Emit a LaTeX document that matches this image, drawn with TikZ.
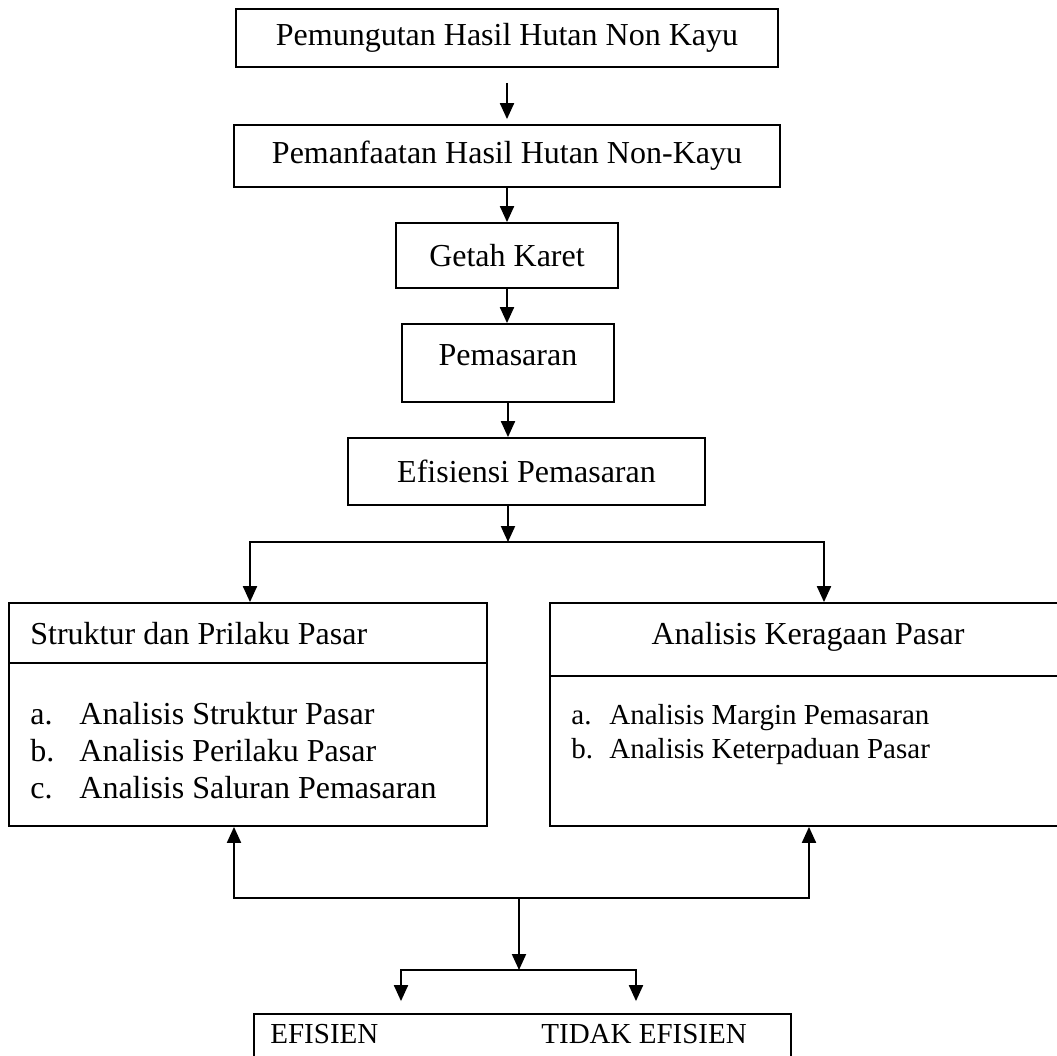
\documentclass[tikz,border=0pt]{standalone}
\usepackage{fontspec}
\setmainfont{Liberation Serif}
\usetikzlibrary{arrows.meta,positioning}

\begin{document}
\begin{tikzpicture}[x=0.5pt,y=-0.5pt,
	box/.style={draw,line width=0.9pt,inner sep=0pt,font=\fontsize{16}{19}\selectfont},
	arr/.style={line width=1pt,-{Triangle[width=7pt,length=8pt]}},
	txt/.style={inner sep=0pt,anchor=base west,font=\fontsize{16}{19}\selectfont},
	txtkecil/.style={inner sep=0pt,anchor=base west,font=\fontsize{14.5}{17}\selectfont}]
	\clip (0,0) rectangle (1057,1056);
	% alur atas
	\node[box,minimum width=271pt,minimum height=29pt] (pungut) at (507,38) {Pemungutan Hasil Hutan Non Kayu};
	\node[box,minimum width=273pt,minimum height=31pt] (manfaat) at (507,156) {Pemanfaatan Hasil Hutan Non-Kayu};
	\node[box,minimum width=111pt,minimum height=32.5pt] (getah) at (507,255.5) {Getah Karet};
	\node[box,minimum width=106pt,minimum height=39pt,text depth=8pt] (pasar) at (508,363) {Pemasaran};
	\node[box,minimum width=178.5pt,minimum height=33.5pt] (efisiensi) at (526.5,471.5) {Efisiensi Pemasaran};
	\draw[arr,shorten <=7.5pt,shorten >=2.5pt] (pungut.south) -- (manfaat.north);
	\draw[arr] (manfaat.south) -- (getah.north);
	\draw[arr] (getah.south) -- (getah.south |- pasar.north);
	\draw[arr] (pasar.south) -- (pasar.south |- efisiensi.north);
	% dua analisis
	\node[box,minimum width=239pt,minimum height=111.5pt] (struktur) at (248,714.5) {};
	\node[box,minimum width=258pt,minimum height=111.5pt] (keragaan) at (808,714.5) {};
	\draw[line width=0.9pt] (struktur.west |- 0,663) -- (struktur.east |- 0,663);
	\draw[line width=0.9pt] (keragaan.west |- 0,676) -- (keragaan.east |- 0,676);
	\coordinate (j1) at (508,542);
	\draw[arr] (efisiensi.south -| j1) -- (j1);
	\draw[arr] (j1) -| ([xshift=1pt]struktur.north);
	\draw[arr] (j1) -| ([xshift=8pt]keragaan.north);
	\node[txt] (judulS) at (30,644) {Struktur dan Prilaku Pasar};
	\node[txt] (sa) at (30,724) {a.};
	\node[txt] (sb) at (30,761) {b.};
	\node[txt] (sc) at (30,798) {c.};
	\node[txt] (sa2) at (79,724) {Analisis Struktur Pasar};
	\node[txt] (sb2) at (79,761) {Analisis Perilaku Pasar};
	\node[txt] (sc2) at (79,798) {Analisis Saluran Pemasaran};
	\node[txt,anchor=base] (judulK) at (808,644) {Analisis Keragaan Pasar};
	\node[txtkecil] (ka) at (571,724) {a.};
	\node[txtkecil] (kb) at (571,758) {b.};
	\node[txtkecil] (ka2) at (609,724) {Analisis Margin Pemasaran};
	\node[txtkecil] (kb2) at (609,758) {Analisis Keterpaduan Pasar};
	% hasil
	\node[box,minimum width=268.5pt,minimum height=38pt] (hasil) at (522.5,1052) {};
	\coordinate (j2) at (519,898);
	\coordinate (j3) at (519,970);
	\draw[arr] (j2) -| ([xshift=-7pt]struktur.south);
	\draw[arr] (j2) -| ([xshift=0.5pt]keragaan.south);
	\draw[arr] (j2) -- (j3);
	\draw[arr,shorten >=6pt] (j3) -| ([xshift=-60.75pt]hasil.north);
	\draw[arr,shorten >=6pt] (j3) -| ([xshift=56.75pt]hasil.north);
	\node[txtkecil] (efisien) at (270,1043) {EFISIEN};
	\node[txtkecil] (tidak) at (541,1043) {TIDAK EFISIEN};
\end{tikzpicture}
\end{document}
